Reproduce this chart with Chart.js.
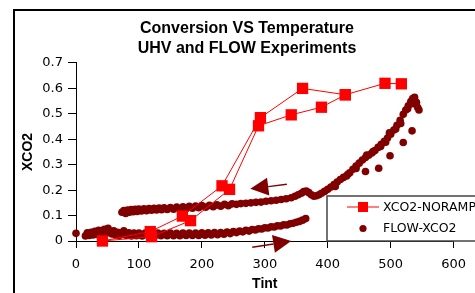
<!DOCTYPE html>
<html lang="en">
<head>
    <meta charset="UTF-8">
    <title>Conversion VS Temperature</title>
    <style>
        body { margin: 0; background: #fff; }
        #chart { display: block; }
    </style>
</head>
<body>
    <canvas id="chart" width="475" height="293"></canvas>

    <script src="https://cdn.jsdelivr.net/npm/chart.js"></script>
    <script>
        // XCO2-NORAMP, in the order the points are joined
        const noRampTint = [517, 491, 428, 390, 342, 290, 244, 182, 120, 42, 118, 169, 232, 293, 360, 428];
        const noRampXco2 = [0.618, 0.620, 0.575, 0.526, 0.496, 0.453, 0.203, 0.080, 0.017, 0.000, 0.037, 0.098, 0.217, 0.485, 0.600, 0.575];

        // FLOW-XCO2: lower branch, upper branch, then the stray points
        const flowTint = [
            0, 15, 18, 21, 24, 27, 30, 33, 36, 39, 42, 45, 48, 51, 54, 57, 60, 63, 66, 69, 72, 76, 80, 84, 88, 92, 96,
            100, 105, 110, 115, 120, 125, 130, 135, 140, 145, 150, 155, 160, 165, 170, 175, 180, 185, 190, 195,
            200, 205, 210, 215, 220, 225, 230, 235, 240, 245, 250, 255, 260, 265, 270, 275, 280, 285, 290, 295,
            300, 305, 310, 315, 320, 325, 330, 335, 340, 345, 350, 355, 360, 365,
            73, 76, 79, 82, 85, 88, 91, 94, 97, 100, 104, 108, 112, 116, 120, 124, 128, 132, 136, 140, 145, 150, 155,
            160, 165, 170, 175, 180, 185, 190, 195, 200, 206, 212, 218, 224, 230, 236, 242, 248, 255, 262, 270, 278,
            286, 294, 302, 310, 318, 326, 334, 342, 348, 353, 358, 362, 366, 370, 374, 378, 382, 386, 390, 395,
            400, 405, 410, 415, 420, 425, 430, 435, 440, 445, 450, 455, 460, 465, 470, 475, 480, 485, 490, 495,
            500, 505, 510, 515, 520, 524, 528, 532, 535, 538, 541, 543, 545,
            445, 462, 484, 498, 508, 516, 527, 536, 412, 432, 472, 492,
            460, 481, 499, 520, 534
        ];
        const flowXco2 = [
            0.030, 0.020, 0.032, 0.022, 0.034, 0.024, 0.038, 0.026, 0.042, 0.028, 0.040, 0.046, 0.030, 0.050, 0.036, 0.028, 0.040, 0.024, 0.034, 0.022, 0.032, 0.040, 0.022, 0.032, 0.020, 0.031, 0.021,
            0.031, 0.020, 0.031, 0.021, 0.030, 0.020, 0.031, 0.021, 0.030, 0.021, 0.031, 0.021, 0.030, 0.021, 0.031, 0.022, 0.031, 0.022, 0.031, 0.022,
            0.032, 0.023, 0.032, 0.024, 0.033, 0.025, 0.033, 0.027, 0.035, 0.029, 0.037, 0.033, 0.039, 0.036, 0.042, 0.039, 0.045, 0.043, 0.048, 0.047,
            0.052, 0.051, 0.056, 0.055, 0.060, 0.059, 0.064, 0.063, 0.068, 0.070, 0.074, 0.077, 0.082, 0.088,
            0.113, 0.120, 0.108, 0.122, 0.113, 0.124, 0.115, 0.125, 0.116, 0.126, 0.118, 0.127, 0.119, 0.128, 0.121, 0.129, 0.122, 0.130, 0.123, 0.131, 0.124, 0.132, 0.125,
            0.133, 0.127, 0.134, 0.128, 0.136, 0.129, 0.137, 0.131, 0.139, 0.133, 0.140, 0.135, 0.142, 0.137, 0.144, 0.139, 0.146, 0.144, 0.147, 0.148, 0.150,
            0.152, 0.153, 0.156, 0.158, 0.160, 0.163, 0.166, 0.170, 0.176, 0.182, 0.188, 0.194, 0.196, 0.190, 0.182, 0.176, 0.178, 0.182, 0.188, 0.195,
            0.203, 0.212, 0.222, 0.232, 0.242, 0.250, 0.256, 0.268, 0.282, 0.295, 0.306, 0.318, 0.328, 0.337, 0.346, 0.356, 0.368, 0.380, 0.392, 0.405,
            0.420, 0.436, 0.455, 0.475, 0.498, 0.515, 0.532, 0.548, 0.560, 0.565, 0.545, 0.525, 0.515,
            0.285, 0.338, 0.372, 0.425, 0.440, 0.462, 0.520, 0.540, 0.214, 0.262, 0.352, 0.388,
            0.273, 0.286, 0.335, 0.387, 0.433
        ];

        const xTickValues = [0, 100, 200, 300, 400, 500, 600];
        const yTickValues = [0, 0.1, 0.2, 0.3, 0.4, 0.5, 0.6, 0.7];

        // the two hand-drawn arrows, in data units
        const arrows = [
            { from: [335, 0.223], to: [277, 0.205] },
            { from: [280, -0.025], to: [342, 0.0] }
        ];

        const darkRed = '#800000';

        const frame = {
            id: 'frame',
            beforeDraw(chart) {
                const ctx = chart.ctx;
                ctx.save();
                ctx.fillStyle = '#fff';
                ctx.fillRect(0, 0, chart.width, chart.height);
                ctx.strokeStyle = '#000';
                ctx.lineWidth = 2;
                ctx.beginPath();
                ctx.moveTo(14, chart.height);
                ctx.lineTo(14, 10);
                ctx.lineTo(chart.width, 10);
                ctx.stroke();
                ctx.restore();
            }
        };

        const arrowPlugin = {
            id: 'arrows',
            afterDatasetsDraw(chart) {
                const ctx = chart.ctx;
                const xs = chart.scales.x, ys = chart.scales.y;
                ctx.save();
                ctx.strokeStyle = darkRed;
                ctx.fillStyle = darkRed;
                ctx.lineWidth = 1.5;
                arrows.forEach(a => {
                    const x1 = xs.getPixelForValue(a.from[0]), y1 = ys.getPixelForValue(a.from[1]);
                    const x2 = xs.getPixelForValue(a.to[0]), y2 = ys.getPixelForValue(a.to[1]);
                    const ang = Math.atan2(y2 - y1, x2 - x1);
                    const len = 18, half = 9;
                    const bx = x2 - Math.cos(ang) * len, by = y2 - Math.sin(ang) * len;
                    ctx.beginPath();
                    ctx.moveTo(x1, y1);
                    ctx.lineTo(bx, by);
                    ctx.stroke();
                    ctx.beginPath();
                    ctx.moveTo(x2, y2);
                    ctx.lineTo(bx - Math.sin(ang) * half, by + Math.cos(ang) * half);
                    ctx.lineTo(bx + Math.sin(ang) * half, by - Math.cos(ang) * half);
                    ctx.closePath();
                    ctx.fill();
                });
                ctx.restore();
            }
        };

        const legendBox = {
            id: 'legendBox',
            afterDraw(chart) {
                const ctx = chart.ctx;
                ctx.save();
                ctx.fillStyle = '#fff';
                ctx.strokeStyle = '#444';
                ctx.lineWidth = 1.5;
                ctx.fillRect(327, 196, 160, 45);
                ctx.strokeRect(327, 196, 160, 45);
                ctx.font = '12.5px "DejaVu Sans"';
                ctx.textBaseline = 'middle';
                chart.data.datasets.forEach((ds, i) => {
                    const y = 207 + i * 21.5;
                    const cx = 363;
                    if (ds.showLine) {
                        ctx.strokeStyle = ds.borderColor;
                        ctx.lineWidth = 1;
                        ctx.beginPath();
                        ctx.moveTo(347, y);
                        ctx.lineTo(379, y);
                        ctx.stroke();
                    }
                    ctx.fillStyle = ds.pointBackgroundColor;
                    if (ds.pointStyle === 'rect') {
                        ctx.fillRect(cx - 5, y - 5, 10, 10);
                    } else {
                        ctx.beginPath();
                        ctx.arc(cx, y, 3.6, 0, Math.PI * 2);
                        ctx.fill();
                    }
                    ctx.fillStyle = '#000';
                    ctx.fillText(ds.label, 383, y + 0.5);
                });
                ctx.restore();
            }
        };

        const tickFont = { family: '"DejaVu Sans"', size: 13 };
        const axisTitleFont = { family: '"Liberation Sans", Arial', size: 14, weight: 'bold' };

        new Chart(document.getElementById('chart'), {
            type: 'scatter',
            data: {
                datasets: [{
                    label: 'XCO2-NORAMP',
                    data: noRampTint.map((t, i) => ({ x: t, y: noRampXco2[i] })),
                    showLine: true,
                    borderColor: '#ff0000',
                    borderWidth: 1,
                    pointStyle: 'rect',
                    pointRadius: 8,
                    pointBorderWidth: 0,
                    pointBackgroundColor: '#ff0000',
                    clip: false
                }, {
                    label: 'FLOW-XCO2',
                    data: flowTint.map((t, i) => ({ x: t, y: flowXco2[i] })),
                    showLine: false,
                    pointStyle: 'circle',
                    pointRadius: 3.8,
                    pointBorderWidth: 0,
                    pointBackgroundColor: darkRed,
                    clip: false
                }]
            },
            options: {
                responsive: false,
                animation: false,
                events: [],
                layout: { padding: { left: 31, right: 12, top: 0, bottom: 0 } },
                plugins: {
                    legend: { display: false },
                    tooltip: { enabled: false },
                    title: {
                        display: true,
                        text: ['Conversion VS Temperature', 'UHV and FLOW Experiments'],
                        color: '#000',
                        font: { family: '"Liberation Sans", Arial', size: 16, weight: 'bold', lineHeight: 1.28 },
                        padding: { top: 18, bottom: 4 }
                    }
                },
                scales: {
                    x: {
                        type: 'linear',
                        min: 0,
                        max: 600,
                        afterBuildTicks: s => { s.ticks = xTickValues.map(v => ({ value: v })); },
                        afterFit: s => { s.height = 52; },
                        ticks: { color: '#000', font: tickFont, padding: 9, maxRotation: 0 },
                        grid: { drawOnChartArea: false, drawTicks: true, tickLength: 7, color: '#000' },
                        border: { display: true, color: '#000', width: 1 },
                        title: { display: true, text: 'Tint', color: '#000', font: axisTitleFont, padding: { bottom: 0, top: 0 } }
                    },
                    y: {
                        type: 'linear',
                        min: 0,
                        max: 0.7,
                        afterBuildTicks: s => { s.ticks = yTickValues.map(v => ({ value: v })); },
                        afterFit: s => { s.width = 45; },
                        ticks: { color: '#000', font: tickFont, padding: 5 },
                        grid: { drawOnChartArea: false, drawTicks: true, tickLength: 8, color: '#000' },
                        border: { display: true, color: '#000', width: 1 },
                        title: { display: true, text: 'XCO2', color: '#000', font: axisTitleFont, padding: { top: -11, bottom: 0 } }
                    }
                }
            },
            plugins: [frame, arrowPlugin, legendBox]
        });
    </script>
</body>
</html>
